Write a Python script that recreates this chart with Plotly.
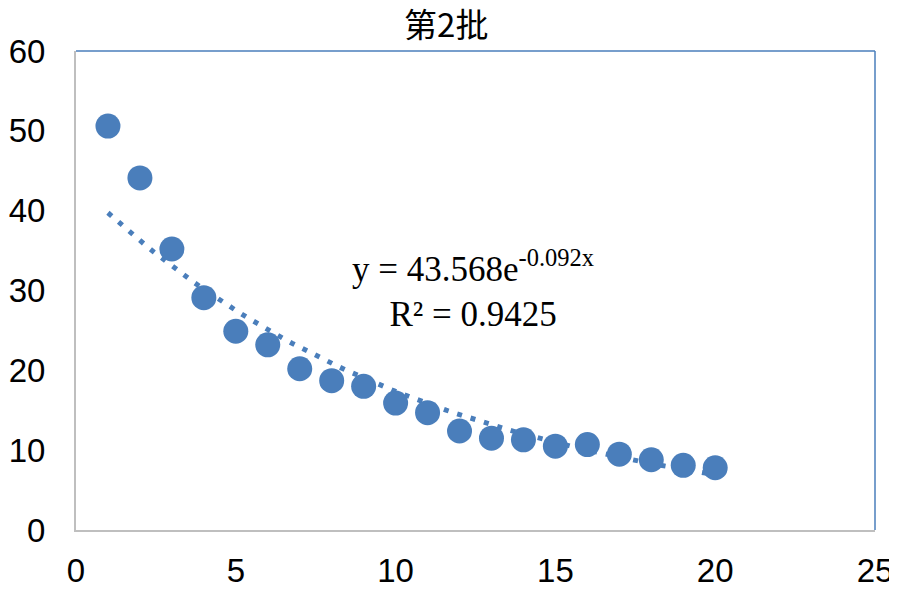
import numpy as np
import plotly.graph_objects as go

# batch 2 measurements
x_vals = list(range(1, 21))
y_vals = [50.6, 44.1, 35.2, 29.1, 24.9, 23.2, 20.2, 18.7, 18.0, 15.9,
          14.7, 12.4, 11.5, 11.3, 10.5, 10.7, 9.5, 8.8, 8.1, 7.8]

# exponential trendline coefficients (from the chart label)
coef_a = 43.568
coef_b = -0.092
r_squared = 0.9425

blue = "#4A7EBB"
font_lbl = "Liberation Sans, Arial, sans-serif"

trend_x = np.linspace(1, 20, 80)
trend_y = coef_a * np.exp(coef_b * trend_x)

fig = go.Figure()
fig.add_trace(go.Scatter(x=trend_x, y=trend_y, mode="lines",
                         line=dict(color=blue, width=5, dash="5px,9px"),
                         hoverinfo="skip"))
fig.add_trace(go.Scatter(x=x_vals, y=y_vals, mode="markers",
                         marker=dict(color=blue, size=25, line=dict(width=0))))

fig.add_annotation(
    x=12.42, y=30.2, xref="x", yref="y", showarrow=False, align="center",
    text=f"y = {coef_a}e<sup>{coef_b}x</sup><br>R² = {r_squared}",
    font=dict(family="Liberation Serif, Times New Roman, serif", size=35, color="black"),
)

# top and right frame lines are blue, left/bottom are grey
fig.add_shape(type="line", xref="paper", yref="paper", x0=0, x1=1, y0=1, y1=1,
              line=dict(color=blue, width=1.5))
fig.add_shape(type="line", xref="paper", yref="paper", x0=1, x1=1, y0=0, y1=1,
              line=dict(color=blue, width=1.5))

# page body adds an 8px offset, so the figure is 8px smaller each way
fig.update_layout(
    width=889, height=584,
    margin=dict(l=68, r=22, t=43, b=62, autoexpand=False),
    paper_bgcolor="white", plot_bgcolor="white",
    showlegend=False,
    title=dict(text="第2批", x=0.493, xanchor="center", y=0.971, yanchor="middle",
               font=dict(family="Noto Sans CJK SC", size=33, color="black")),
    xaxis=dict(range=[0, 25], tickvals=[0, 5, 10, 15, 20, 25], showgrid=False,
               zeroline=False, showline=True, linecolor="#BFBFBF", linewidth=2,
               ticks="", ticklabelstandoff=10, automargin=False,
               tickfont=dict(family=font_lbl, size=33, color="black")),
    yaxis=dict(range=[0, 60], tickvals=[0, 10, 20, 30, 40, 50, 60], showgrid=False,
               zeroline=False, showline=True, linecolor="#BFBFBF", linewidth=2,
               ticks="", ticklabelstandoff=22, automargin=False,
               tickfont=dict(family=font_lbl, size=33, color="black")),
)

fig.write_html("out.html")
